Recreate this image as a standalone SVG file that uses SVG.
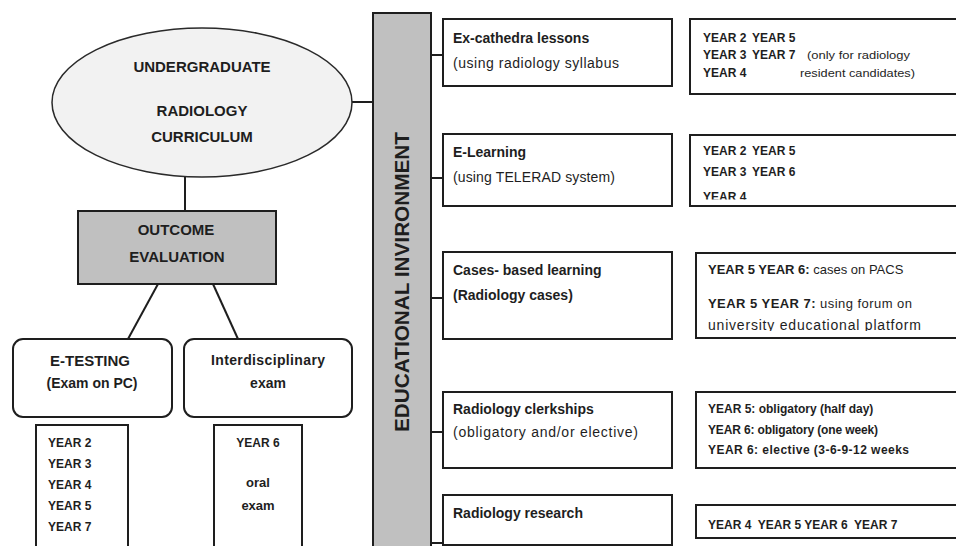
<svg xmlns="http://www.w3.org/2000/svg" width="956" height="546" viewBox="0 0 956 546">
<defs>
<style>
text{font-family:"Liberation Sans",Arial,sans-serif;fill:#1e1e1e}
.b{font-weight:bold}
.box{fill:#fff;stroke:#1e1e1e;stroke-width:2}
.gray{fill:#c0c0c0;stroke:#1e1e1e;stroke-width:2}
.con{stroke:#1e1e1e;stroke-width:2;fill:none}
.t15{font-size:15px}
.t14{font-size:14px}
.t13{font-size:13px}
.t12{font-size:12px}
.sm{font-size:10.5px}
.c{text-anchor:middle}
.pre{white-space:pre}
</style>
<clipPath id="clipR2"><rect x="690" y="130" width="270" height="69.5"/></clipPath>
<clipPath id="clipR3"><rect x="696" y="250" width="270" height="81"/></clipPath>
</defs>
<rect width="956" height="546" fill="#fff"/>
<g id="connectors">
<line class="con" x1="352" y1="102" x2="373" y2="102"/>
<line class="con" x1="185" y1="177" x2="185" y2="211"/>
<line class="con" x1="158" y1="284" x2="128" y2="339"/>
<line class="con" x1="213" y1="284" x2="238" y2="339"/>
<line class="con" x1="431" y1="55" x2="443" y2="55"/>
<line class="con" x1="431" y1="178" x2="443" y2="178"/>
<line class="con" x1="431" y1="298" x2="443" y2="298"/>
<line class="con" x1="431" y1="432" x2="443" y2="432"/>
<line class="con" x1="431" y1="543" x2="443" y2="543"/>
</g>
<g id="curriculum">
<ellipse cx="202" cy="102.5" rx="150" ry="74.5" fill="#f2f2f2" stroke="#2a2a2a" stroke-width="1.5"/>
<text class="b t15 c" x="202" y="72">UNDERGRADUATE</text>
<text class="b t15 c" x="202" y="116">RADIOLOGY</text>
<text class="b t15 c" x="202" y="142">CURRICULUM</text>
</g>
<g id="outcome">
<rect class="gray" x="78" y="211" width="198" height="73"/>
<text class="b t15 c" x="176" y="235">OUTCOME</text>
<text class="b t15 c" x="177" y="262">EVALUATION</text>
</g>
<g id="etesting">
<rect class="box" x="13" y="339" width="159" height="78" rx="10"/>
<text class="b t15 c" x="90" y="366">E-TESTING</text>
<text class="b t14 c" x="92" y="388">(Exam on PC)</text>
</g>
<g id="interdisciplinary">
<rect class="box" x="184" y="339" width="168" height="78" rx="10"/>
<text class="b t14 c" x="268" y="365" textLength="114">Interdisciplinary</text>
<text class="b t14 c" x="268" y="388">exam</text>
</g>
<g id="etesting-years">
<rect class="box" x="36" y="425" width="92" height="130"/>
<text class="b t12" x="48" y="446.5">YEAR 2</text>
<text class="b t12" x="48" y="467.5">YEAR 3</text>
<text class="b t12" x="48" y="488.5">YEAR 4</text>
<text class="b t12" x="48" y="509.5">YEAR 5</text>
<text class="b t12" x="48" y="530.5">YEAR 7</text>
</g>
<g id="interdisciplinary-years">
<rect class="box" x="214" y="425" width="88" height="130"/>
<text class="b t12 c" x="258" y="446.5">YEAR 6</text>
<text class="b t13 c" x="258" y="487">oral</text>
<text class="b t13 c" x="258" y="510">exam</text>
</g>
<g id="environment">
<rect class="gray" x="373" y="13" width="58" height="545"/>
<text class="b c" x="0" y="0" font-size="21" textLength="300" lengthAdjust="spacingAndGlyphs" transform="translate(409,282) rotate(-90)">EDUCATIONAL INVIRONMENT</text>
</g>
<g id="excathedra">
<rect class="box" x="443" y="19" width="229" height="67"/>
<text class="b t14" x="453" y="43">Ex-cathedra lessons</text>
<text class="t14" x="453" y="68" textLength="166">(using radiology syllabus</text>
</g>
<g id="excathedra-years">
<rect class="box" x="690" y="19" width="275" height="75"/>
<text class="b t12" x="703" y="42">YEAR 2</text><text class="b t12" x="752" y="42">YEAR 5</text>
<text class="b t12" x="703" y="59">YEAR 3</text><text class="b t12" x="752" y="59">YEAR 7</text><text class="sm" x="807" y="59" textLength="103" lengthAdjust="spacingAndGlyphs">(only for radiology</text>
<text class="b t12" x="703" y="77">YEAR 4</text><text class="sm" x="800" y="77" textLength="115" lengthAdjust="spacingAndGlyphs">resident candidates)</text>
</g>
<g id="elearning">
<rect class="box" x="443" y="134" width="229" height="72"/>
<text class="b t14" x="453" y="157">E-Learning</text>
<text class="t14" x="453" y="182" textLength="162">(using TELERAD system)</text>
</g>
<g id="elearning-years">
<rect class="box" x="690" y="135" width="275" height="71"/>
<text class="b t12" x="703" y="155">YEAR 2</text><text class="b t12" x="752" y="155">YEAR 5</text>
<text class="b t12" x="703" y="176">YEAR 3</text><text class="b t12" x="752" y="176">YEAR 6</text>
<text class="b t12" x="703" y="201" clip-path="url(#clipR2)">YEAR 4</text>
</g>
<g id="cases">
<rect class="box" x="443" y="252" width="229" height="87"/>
<text class="b t14" x="453" y="275">Cases- based learning</text>
<text class="b t14" x="453" y="300">(Radiology cases)</text>
</g>
<g id="cases-years">
<rect class="box" x="696" y="253" width="270" height="85"/>
<text class="t13" x="708" y="274"><tspan class="b">YEAR 5 YEAR 6:</tspan> cases on PACS</text>
<text class="t13" x="708" y="308" textLength="204"><tspan class="b">YEAR 5 YEAR 7:</tspan> using forum on</text>
<text class="t14" x="708" y="330" textLength="213" clip-path="url(#clipR3)">university educational platform</text>
</g>
<g id="clerkships">
<rect class="box" x="443" y="392" width="229" height="76"/>
<text class="b t14" x="453" y="414">Radiology clerkships</text>
<text class="t14" x="453" y="437" textLength="185">(obligatory and/or elective)</text>
</g>
<g id="clerkships-years">
<rect class="box" x="696" y="392" width="270" height="76"/>
<text class="b t12" x="708" y="413">YEAR 5: obligatory (half day)</text>
<text class="b t12" x="708" y="434" textLength="170">YEAR 6: obligatory (one week)</text>
<text class="b t12" x="708" y="454" textLength="201">YEAR 6: elective (3-6-9-12 weeks</text>
</g>
<g id="research">
<rect class="box" x="443" y="495" width="229" height="50"/>
<text class="b t14" x="453" y="518">Radiology research</text>
</g>
<g id="research-years">
<rect class="box" x="696" y="505" width="270" height="33"/>
<text class="b t12 pre" x="708" y="529">YEAR 4  YEAR 5 YEAR 6  YEAR 7</text>
</g>
</svg>
